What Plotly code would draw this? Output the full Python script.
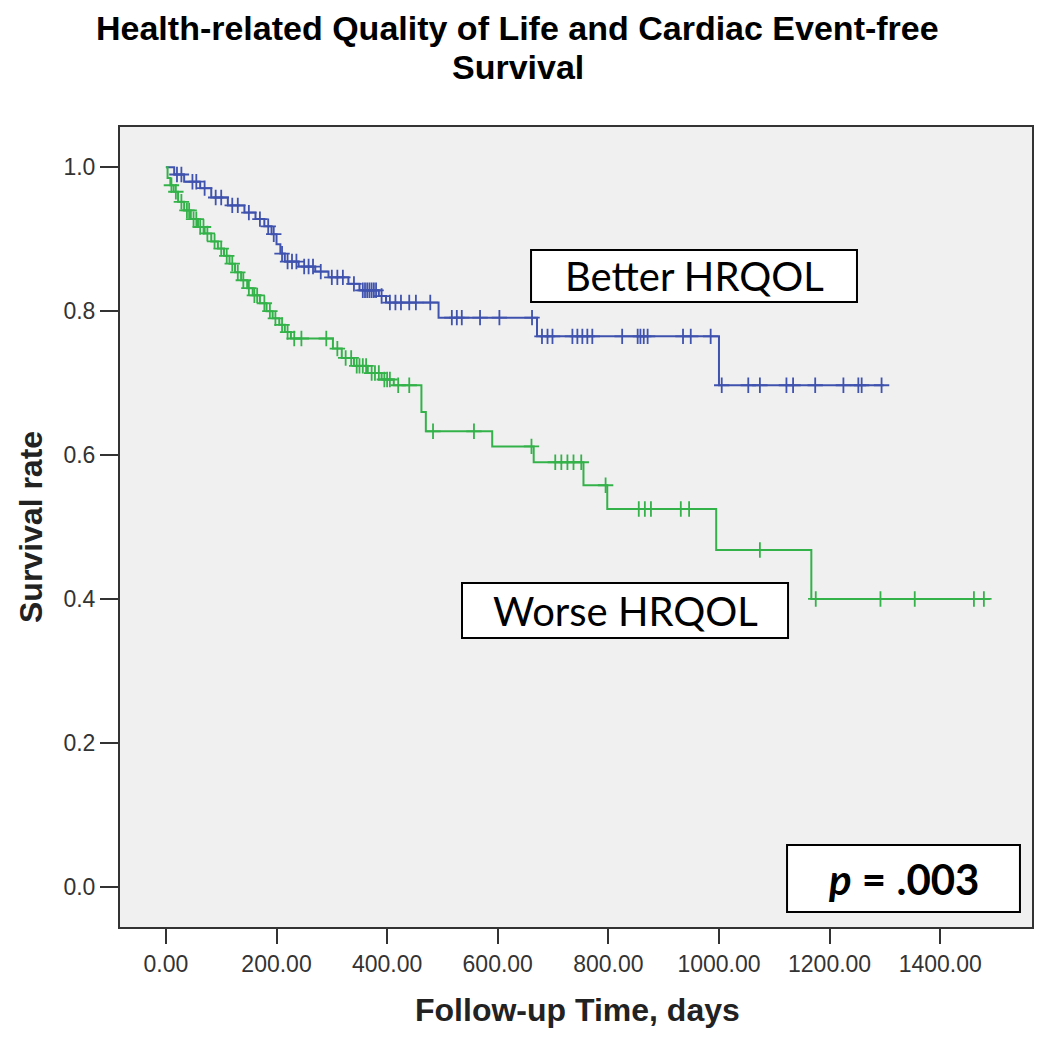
import numpy as np
import plotly.graph_objects as go

# ---------------- data ----------------
better_times = [0, 15, 33, 62, 82, 112, 142, 162, 178, 191, 200, 207, 215, 240, 270, 294, 330, 350, 385, 398, 493, 671, 1000, 1298]
better_surv = [1.0, 0.99, 0.98, 0.971, 0.958, 0.947, 0.937, 0.928, 0.918, 0.907, 0.893, 0.880, 0.869, 0.862, 0.855, 0.847, 0.838, 0.829, 0.821, 0.812, 0.791, 0.765, 0.697, 0.697]
better_censor = [20, 28, 48, 55, 70, 90, 100, 120, 130, 150, 170, 185, 195, 210, 220, 228, 236, 250, 258, 266, 280, 300, 310, 320, 340, 356, 360, 364, 368, 372, 376, 380, 390, 405, 415, 425, 440, 452, 478,
                 517, 526, 535, 568, 603, 662,
                 680, 690, 699, 735, 744, 753, 762, 771, 825, 853, 858, 864, 871, 935, 949, 985,
                 1005, 1053, 1074, 1122, 1134, 1174, 1225, 1252, 1258, 1294]

worse_times = [0, 3, 8, 14, 22, 33, 45, 58, 70, 82, 94, 105, 115, 125, 136, 147, 157, 170, 182, 193, 205, 215, 226, 302, 318, 340, 365, 390, 412, 462, 470, 590, 665, 755, 798, 995, 1167, 1490]
worse_surv = [1.0, 0.985, 0.975, 0.966, 0.952, 0.94, 0.928, 0.917, 0.908, 0.897, 0.887, 0.877, 0.866, 0.854, 0.843, 0.832, 0.822, 0.811, 0.80, 0.79, 0.781, 0.771, 0.762, 0.748, 0.735, 0.724, 0.714, 0.705, 0.697, 0.66, 0.633, 0.612, 0.59, 0.558, 0.525, 0.468, 0.40, 0.40]
worse_censor = [10, 18, 28, 38, 42, 50, 55, 62, 68, 75, 88, 100, 110, 120, 130, 140, 150, 160, 165, 178, 188, 198, 210, 220, 232, 245, 290,
                310, 325, 335, 345, 350, 356, 362, 372, 378, 385, 395, 400, 405, 420, 440,
                483, 557, 661, 704, 715, 726, 737, 751, 795, 855, 866, 877, 931, 946, 1074, 1175, 1292, 1354, 1461, 1479]

y_ticks = [0.0, 0.2, 0.4, 0.6, 0.8, 1.0]
x_ticks = [0, 200, 400, 600, 800, 1000, 1200, 1400]

title_lines = ["Health-related Quality of Life and Cardiac Event-free", "Survival"]
x_title = "Follow-up Time, days"
y_title = "Survival rate"
better_label = "Better HRQOL"
worse_label = "Worse HRQOL"
p_label = "<b><i>p</i> = .003</b>"

BLUE = "#3f52ae"
GREEN = "#34b24a"
SANS = "Liberation Sans, Arial, sans-serif"
BOXFONT = "Lato, Open Sans, sans-serif"


def step_at(times, surv, t):
    idx = np.searchsorted(np.asarray(times), np.asarray(t), side="right") - 1
    return np.asarray(surv)[idx]


fig = go.Figure()
for times, surv, cens, col, name in [
    (better_times, better_surv, better_censor, BLUE, better_label),
    (worse_times, worse_surv, worse_censor, GREEN, worse_label),
]:
    fig.add_trace(go.Scatter(x=times, y=surv, mode="lines", line=dict(color=col, width=2, shape="hv"),
                             name=name, showlegend=False, hoverinfo="skip"))
    fig.add_trace(go.Scatter(x=cens, y=step_at(times, surv, cens), mode="markers",
                             marker=dict(symbol="cross-thin", size=11, line=dict(color=col, width=1.8)),
                             showlegend=False, hoverinfo="skip"))

# label boxes (paper coordinates)
boxes = [
    (0.4507, 0.78125, 0.8081, 0.84625, better_label, 40),
    (0.375, 0.36125, 0.7325, 0.43, worse_label, 40),
    (0.7314, 0.01875, 0.9868, 0.1025, p_label, 42),
]
for x0, y0, x1, y1, txt, fs in boxes:
    fig.add_shape(type="rect", xref="paper", yref="paper", x0=x0, y0=y0, x1=x1, y1=y1,
                  line=dict(color="black", width=2), fillcolor="white", layer="above")
    fig.add_annotation(xref="paper", yref="paper", x=(x0 + x1) / 2, y=(y0 + y1) / 2,
                       text=txt, showarrow=False, xanchor="center", yanchor="middle",
                       font=dict(family=BOXFONT, size=fs, color="black"))

# title lines
for txt, yy in zip(title_lines, [1.1235, 1.0755]):
    fig.add_annotation(xref="paper", yref="paper", x=0.436, y=yy, text="<b>" + txt + "</b>",
                       showarrow=False, xanchor="center", yanchor="middle",
                       font=dict(family=SANS, size=34, color="black"))

# axis titles
fig.add_annotation(xref="paper", yref="paper", x=0.502, y=-0.104, text="<b>" + x_title + "</b>",
                   showarrow=False, xanchor="center", yanchor="middle",
                   font=dict(family=SANS, size=32, color="#222"))
fig.add_annotation(xref="paper", yref="paper", x=-0.0976, y=0.5, text="<b>" + y_title + "</b>",
                   showarrow=False, xanchor="center", yanchor="middle", textangle=-90,
                   font=dict(family=SANS, size=32, color="#222"))

fig.update_layout(
    width=1042, height=1031,
    margin=dict(l=112, r=18, t=119, b=112),
    paper_bgcolor="white", plot_bgcolor="#f0f0f0",
    font=dict(family=SANS, color="#333"),
)
fig.update_xaxes(range=[-83, 1566], tickvals=x_ticks, ticktext=[f"{v:.2f}" for v in x_ticks],
                 ticks="outside", ticklen=15, tickwidth=2, tickcolor="#333",
                 showgrid=False, zeroline=False, showline=True, linecolor="#333", linewidth=2, mirror=True,
                 tickfont=dict(size=23, color="#333"))
fig.update_yaxes(range=[-0.056, 1.056], tickvals=y_ticks, ticktext=[f"{v:.1f}" for v in y_ticks],
                 ticks="outside", ticklen=18, tickwidth=2, tickcolor="#333",
                 showgrid=False, zeroline=False, showline=True, linecolor="#333", linewidth=2, mirror=True,
                 tickfont=dict(size=23, color="#333"))

fig.write_html("out.html")
